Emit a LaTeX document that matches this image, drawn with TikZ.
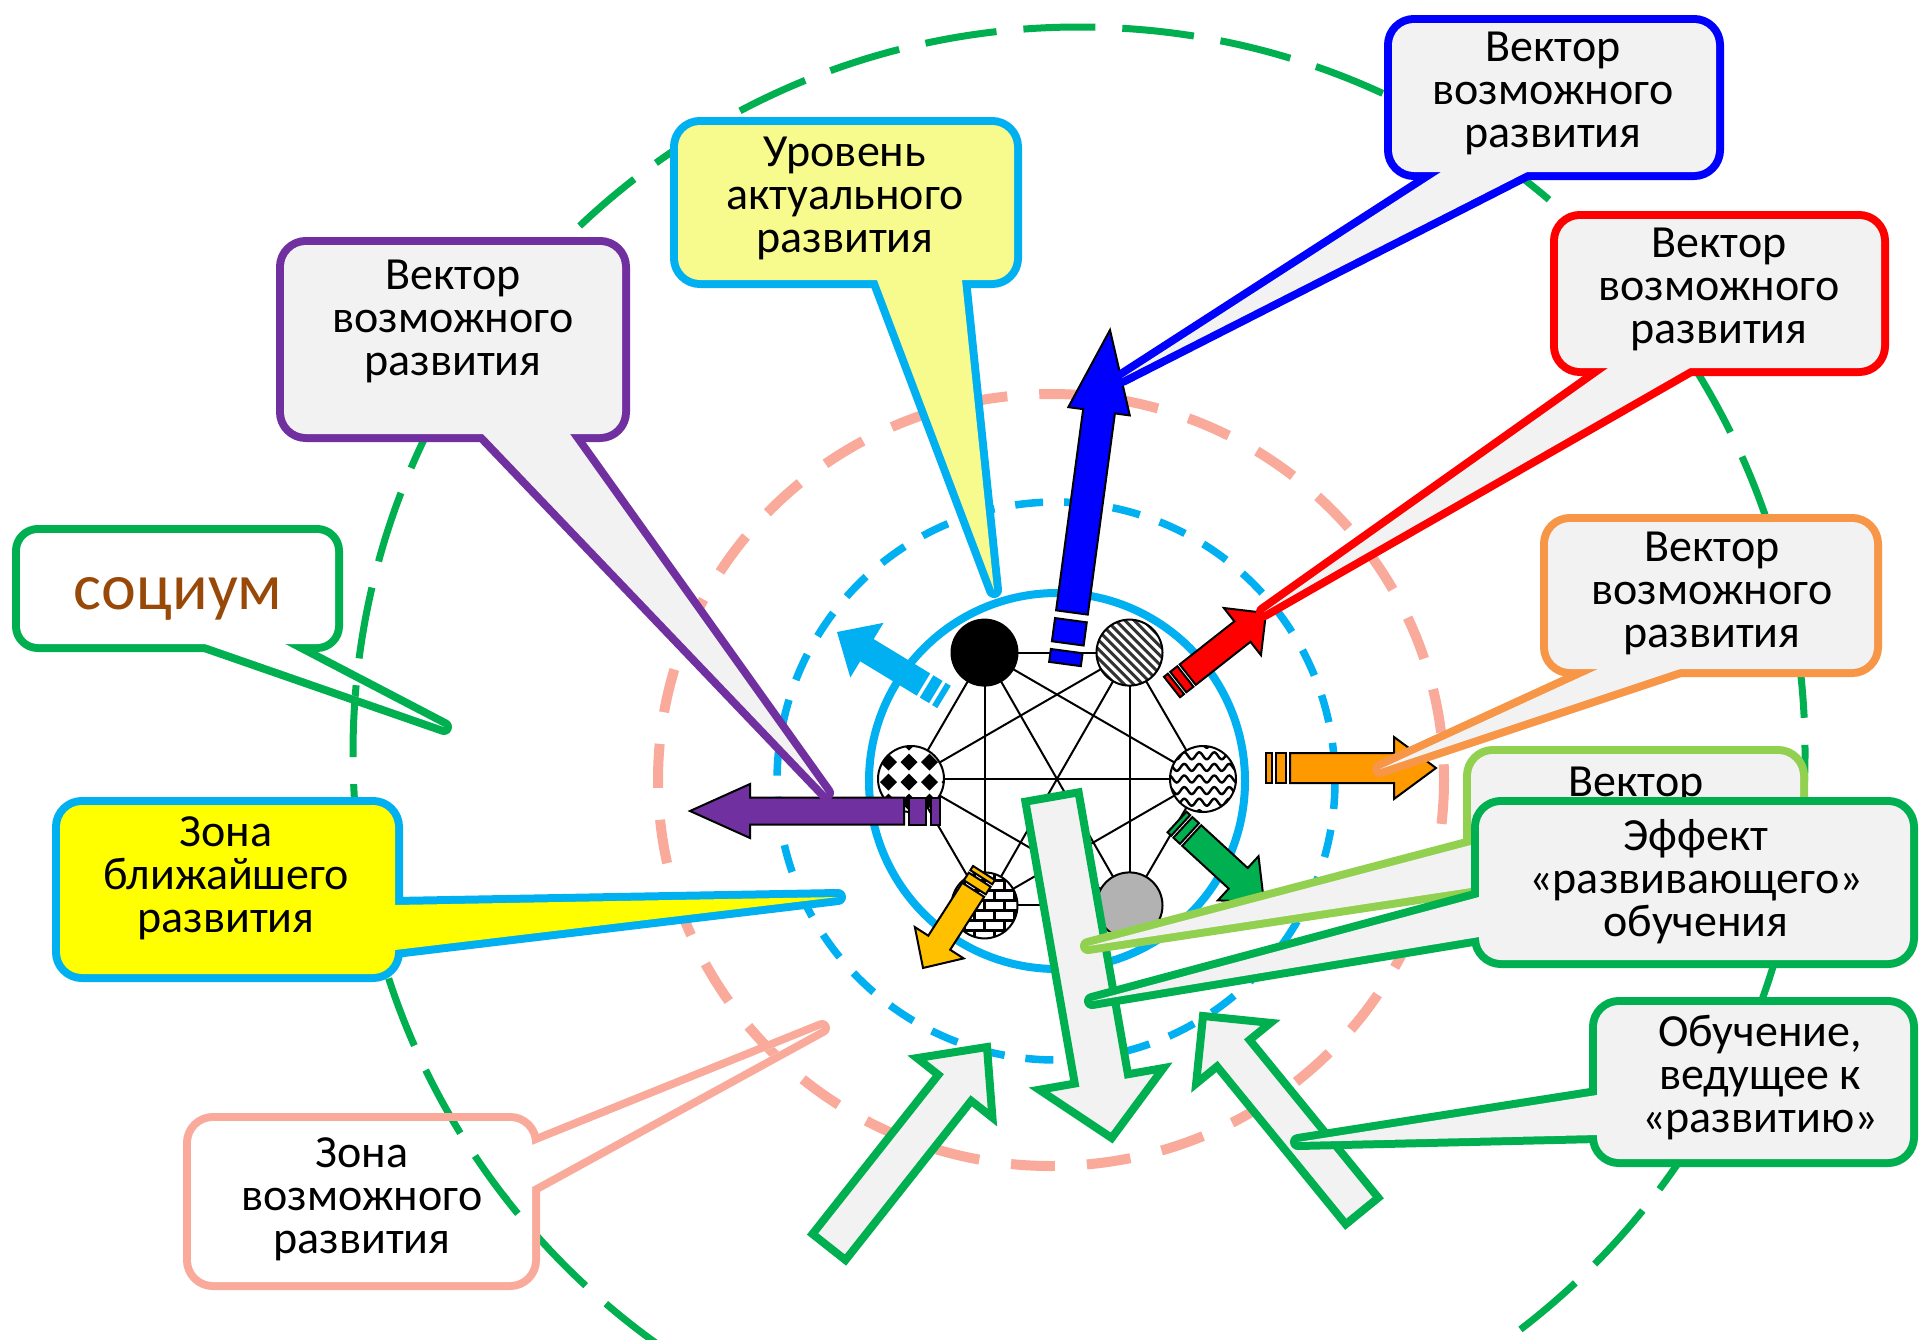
\documentclass[tikz,border=0pt]{standalone}
\usepackage{fontspec}
\setmainfont{Carlito}
\usetikzlibrary{calc}
\definecolor{grn}{HTML}{00B050}
\definecolor{salm}{HTML}{FAAA9B}
\definecolor{cyn}{HTML}{00B0F0}
\definecolor{blu}{HTML}{0000FF}
\definecolor{rd}{HTML}{FF0000}
\definecolor{orA}{HTML}{FF9900}
\definecolor{orC}{HTML}{F79646}
\definecolor{prp}{HTML}{7030A0}
\definecolor{lgr}{HTML}{92D050}
\definecolor{gld}{HTML}{FFC000}
\definecolor{lgray}{HTML}{F2F2F2}
\definecolor{ylw}{HTML}{FFFF00}
\definecolor{lylw}{HTML}{F7FA8C}
\definecolor{brn}{HTML}{984807}
\definecolor{ndgray}{HTML}{B2B2B2}

\newcommand\grcirc{\draw[grn, line width=7pt, dash pattern=on 72pt off 27pt] (1079,753) circle[radius=726];}
\newcommand\slcirc{\draw[salm, line width=10pt, dash pattern=on 44pt off 32pt] (1051,780) ellipse[x radius=393, y radius=386];}

% striped arrow: tail x, tail y, tip x, tip y, shaft half, head half, head length, stripe unit, style
\newcommand\sarrow[9]{%
  \pgfmathsetmacro\arrang{atan2((#2)-(#4),(#3)-(#1))}%
  \pgfmathsetmacro\arrlen{veclen((#3)-(#1),(#2)-(#4))}%
  \pgfmathsetmacro\arrb{\arrlen-(#7)}%
  \begin{scope}[shift={(#1,#2)}, rotate=\arrang]
    \path[#9] (0,-#5) rectangle (#8,#5);
    \path[#9] ({1.6*#8},-#5) rectangle ({3.4*#8},#5);
    \path[#9] ({4*#8},-#5) -- (\arrb,-#5) -- (\arrb,-#6) -- (\arrlen,0) -- (\arrb,#6) -- (\arrb,#5) -- ({4*#8},#5) -- cycle;
  \end{scope}}
% block arrow
\newcommand\barrow[8]{%
  \pgfmathsetmacro\arrang{atan2((#2)-(#4),(#3)-(#1))}%
  \pgfmathsetmacro\arrlen{veclen((#3)-(#1),(#2)-(#4))}%
  \pgfmathsetmacro\arrb{\arrlen-(#7)}%
  \begin{scope}[shift={(#1,#2)}, rotate=\arrang]
    \path[#8] (0,-#5) -- (\arrb,-#5) -- (\arrb,-#6) -- (\arrlen,0) -- (\arrb,#6) -- (\arrb,#5) -- (0,#5) -- cycle;
  \end{scope}}
% callout: draw colour, fill colour, corner1, corner2, radius, base1, base2, tip
\newcommand\callout[8]{%
  \path[draw=#1, line width=16pt, line join=round, rounded corners=#5] #3 rectangle #4;
  \path[draw=#1, line width=16pt, line join=round] ($#6!-30pt!#8$) -- #8 -- ($#7!-30pt!#8$) -- cycle;
  \path[fill=#2, rounded corners=#5] #3 rectangle #4;
  \path[fill=#2] ($#6!-30pt!#8$) -- #8 -- ($#7!-30pt!#8$) -- cycle;}

\tikzset{
  lbl/.style={align=center, inner sep=0pt, font=\fontsize{46pt}{43pt}\selectfont},
  colarrow/.style={draw=black, line width=2pt, line join=miter},
  bigarrow/.style={fill=lgray, draw=grn, line width=8pt, line join=miter},
  edge/.style={line width=2pt}
}

\begin{document}
\begin{tikzpicture}[x=1pt,y=-1pt]
\useasboundingbox (0,0) rectangle (1920,1339);
\fill[white] (0,0) rectangle (1920,1339);

% zones
\grcirc
\slcirc
\draw[cyn, line width=7.5pt, dash pattern=on 28pt off 21pt] (1056,781) circle[radius=279];
\draw[cyn, line width=8pt] (1057,781) circle[radius=188];

% network
\coordinate (A) at (984.5,652.6);
\coordinate (B) at (1129.5,652.6);
\coordinate (C) at (1203,779);
\coordinate (D) at (1129.5,905.4);
\coordinate (E) at (984.5,905.4);
\coordinate (F) at (911,779);
\foreach \a/\b in {A/B,A/C,A/D,A/E,A/F,B/C,B/D,B/E,B/F,C/D,C/E,C/F,D/E,D/F,E/F}
  \draw[edge] (\a) -- (\b);

\filldraw[edge, fill=black] (A) circle (33pt);

\fill[white] (B) circle (33pt);
\begin{scope}
  \clip (B) circle (33pt);
  \foreach \k in {-9,...,9}
    \draw[line width=3pt, black!80] ($(B)+({\k*9.2-40},-40)$) -- ++(80,80);
\end{scope}
\draw[edge] (B) circle (33pt);

\fill[white] (C) circle (33pt);
\begin{scope}
  \clip (C) circle (33pt);
  \foreach \j in {-3,...,3}
    \draw[line width=2.4pt] plot[domain=-36:36, samples=60] ({1203+\x},{779+\j*11.6+3.5*sin(\x*24)});
\end{scope}
\draw[edge] (C) circle (33pt);

\filldraw[edge, fill=ndgray] (D) circle (33pt);

\fill[white] (E) circle (33pt);
\begin{scope}
  \clip (E) circle (33pt);
  \foreach \j in {-4,...,4}
    \draw[line width=2.5pt] (940,{900.4+10*\j}) -- (1030,{900.4+10*\j});
  \foreach \j in {-4,-2,...,4} \foreach \i in {-3,...,3}
    \draw[line width=2.5pt] ({984.5+20*\i},{900.4+10*\j}) -- ++(0,10);
  \foreach \j in {-3,-1,...,3} \foreach \i in {-3,...,3}
    \draw[line width=2.5pt] ({994.5+20*\i},{900.4+10*\j}) -- ++(0,10);
\end{scope}
\draw[edge] (E) circle (33pt);

\fill[white] (F) circle (33pt);
\begin{scope}
  \clip (F) circle (33pt);
  \foreach \i in {-2,...,2} \foreach \j in {-3,...,2}
    \fill ({909+20.5*\i},{782+20*\j}) +(0,-8.5) -- +(8.5,0) -- +(0,8.5) -- +(-8.5,0) -- cycle;
\end{scope}
\draw[edge] (F) circle (33pt);

% coloured striped arrows
\sarrow{1065}{664}{1110}{330}{16}{31}{82}{13}{colarrow, fill=blu}
\sarrow{1172}{687}{1266}{613}{13}{30}{30}{5}{colarrow, fill=rd}
\sarrow{944}{697}{837}{632}{13}{32}{35}{6}{fill=cyn}
\sarrow{940}{811}{690}{811}{13.5}{27}{60}{9}{colarrow, fill=prp}
\sarrow{1266}{768}{1436}{768}{15}{31}{42}{6}{colarrow, fill=orA}
\sarrow{1177}{822}{1264}{902}{14}{30}{35}{5}{colarrow, fill=grn}
\sarrow{984}{873}{923}{968}{13}{29}{30}{5}{colarrow, fill=gld}

% big grey arrows
\barrow{1052}{797}{1111.7}{1138}{27}{63}{60}{bigarrow}
\barrow{829}{1247}{987}{1047}{21}{48}{52}{bigarrow}
\barrow{1362}{1211}{1203}{1016}{21}{48}{48}{bigarrow}

% callouts
\callout{grn}{white}{(20,533)}{(335,644)}{18pt}{(205,644)}{(285,644)}{(444,727)}
\begin{scope}
  \clip ($(205,644)!-30pt!(444,727)$) -- (444,727) -- ($(285,644)!-30pt!(444,727)$) -- cycle;
  \grcirc
\end{scope}
\node[inner sep=0pt, text=brn, font=\fontsize{66pt}{66pt}\selectfont] (tSoc) at (178,599) {социум};

\callout{cyn}{ylw}{(60,805)}{(395,974)}{22pt}{(395,905)}{(395,950)}{(838,897)}
\node[lbl] (tZb) at (226,878) {Зона\\ближайшего\\развития};

\callout{salm}{white}{(191,1121)}{(532,1282)}{22pt}{(532,1145)}{(532,1187)}{(822,1028)}
\begin{scope}
  \clip[rounded corners=22pt] (191,1121) rectangle (532,1282);
  \grcirc
\end{scope}
\begin{scope}
  \clip ($(532,1145)!-30pt!(822,1028)$) -- (822,1028) -- ($(532,1187)!-30pt!(822,1028)$) -- cycle;
  \grcirc
  \slcirc
\end{scope}
\node[lbl] (tZv) at (362,1199) {Зона\\возможного\\развития};

\callout{prp}{lgray}{(284,245)}{(622,434)}{22pt}{(483,434)}{(570,434)}{(826,793)}
\node[lbl] (tPrp) at (453,321) {Вектор\\возможного\\развития};

\callout{cyn}{lylw}{(678,125)}{(1014,280)}{22pt}{(877,280)}{(962,280)}{(994,590)}
\node[lbl] (tUr) at (845,198) {Уровень\\актуального\\развития};

\callout{blu}{lgray}{(1392,23)}{(1716,172)}{22pt}{(1441,172)}{(1527,172)}{(1122,378)}
\node[lbl] (tBlu) at (1553,93) {Вектор\\возможного\\развития};

\callout{rd}{lgray}{(1558,219)}{(1881,368)}{22pt}{(1608,368)}{(1690,368)}{(1264,612)}
\node[lbl] (tRed) at (1719,289) {Вектор\\возможного\\развития};

\callout{orC}{lgray}{(1548,522)}{(1874,669)}{22pt}{(1598,669)}{(1680,669)}{(1380,769)}
\node[lbl] (tOr) at (1712,593) {Вектор\\возможного\\развития};

\callout{lgr}{lgray}{(1471,754)}{(1800,905)}{22pt}{(1471,845)}{(1471,888)}{(1088,946)}
\node[lbl] (tLg) at (1636,785) {Вектор};

\callout{grn}{lgray}{(1479,805)}{(1910,960)}{22pt}{(1479,897)}{(1479,937)}{(1092,1001)}
\node[lbl] (tEff) at (1696,882) {Эффект\\«развивающего»\\обучения};

\callout{grn}{lgray}{(1597,1005)}{(1910,1159)}{22pt}{(1597,1095)}{(1597,1135)}{(1298,1142)}
\node[lbl] (tObu) at (1760,1078) {Обучение,\\ведущее к\\«развитию»};
\end{tikzpicture}
\end{document}
